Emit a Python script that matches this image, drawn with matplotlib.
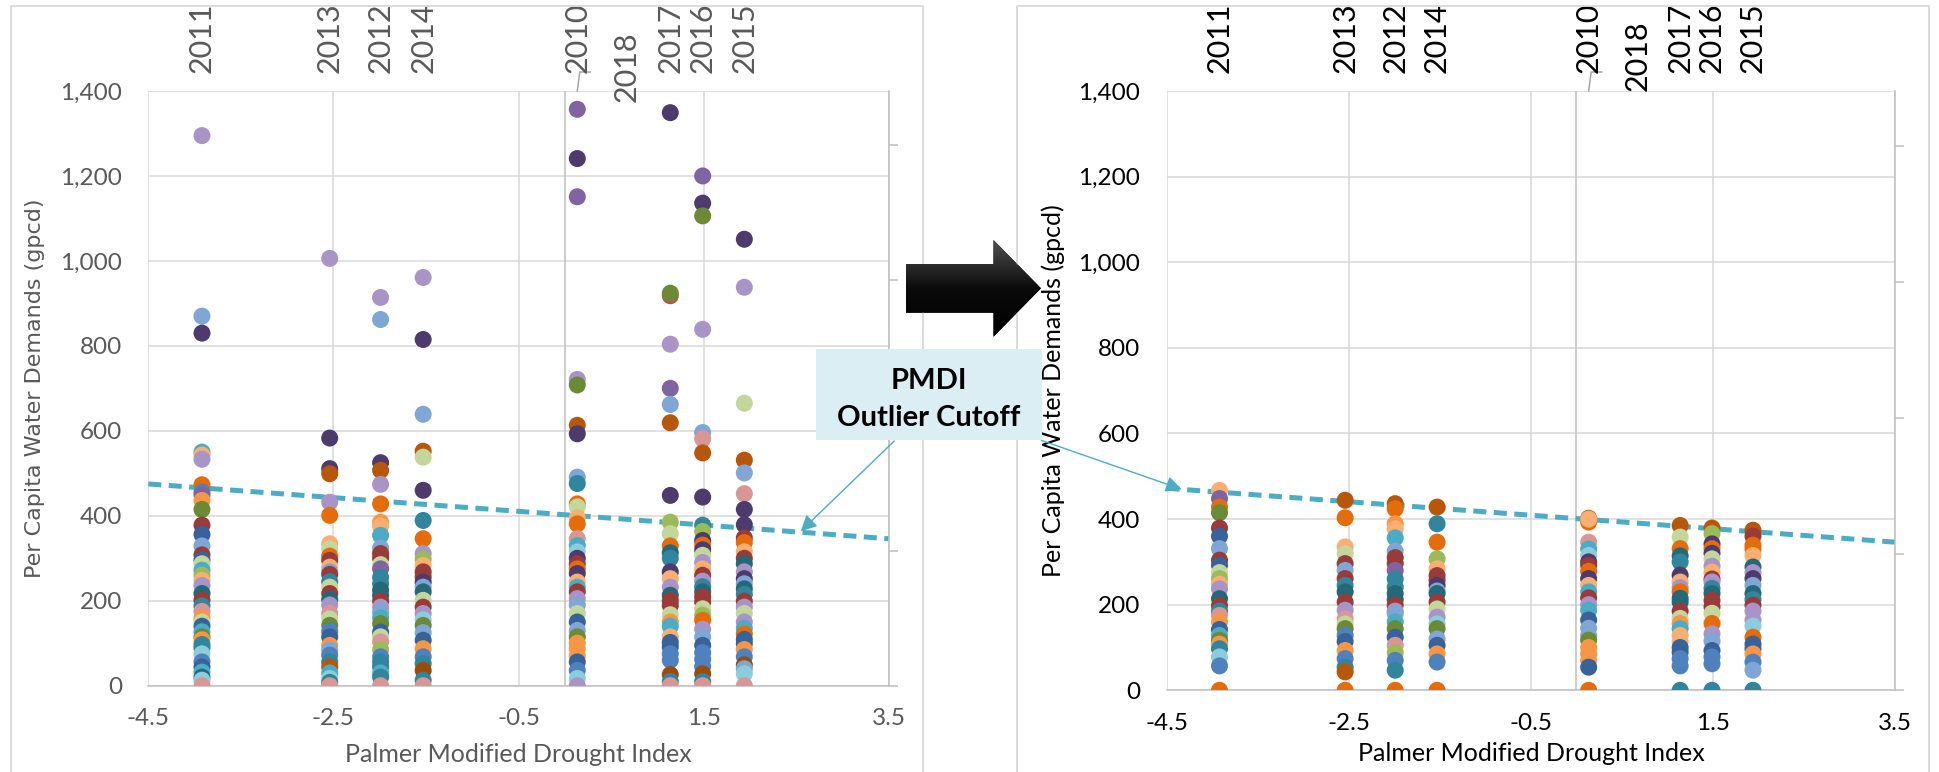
import matplotlib.pyplot as plt
import matplotlib.ticker as ticker
import matplotlib.patches as patches
from matplotlib.colors import LinearSegmentedColormap
import numpy as np

plt.rcParams['font.family'] = ['Lato', 'DejaVu Sans']

# PMDI of every year: the x position of each column of points
years = [2010, 2011, 2012, 2013, 2014, 2015, 2016, 2017, 2018]
pmdi = [0.135, -3.92, -1.99, -2.54, -1.53, 1.94, 1.49, 1.14, 0.67]

# outlier cutoff line, read at both ends of the x axis
cutoff_x = [-4.5, 3.5]
cutoff_before = [475, 346]
cutoff_after = [472, 346]

# per capita demand (gpcd) of each utility, with its series colour code
before_2010 = [(1357, 'P'), (1241, 'D'), (1151, 'P'), (721, 'p'), (708, 'O'), (613, 'W'), (593, 'D'),
               (491, 'b'), (476, 'C'), (428, 'E'), (421, 'g'), (395, 'f'), (381, 'E'), (346, 'r'),
               (330, 'T'), (315, 't'), (300, 'D'), (287, 'M'), (275, 'E'), (264, 'D'), (244, 'f'),
               (232, 'T'), (221, 'M'), (205, 'p'), (190, 'b'), (170, 'g'), (150, 'N'), (130, 'b'),
               (115, 'O'), (100, 'F'), (87, 'F'), (70, 'F'), (56, 'N'), (36, 'B'), (17, 't'), (0, 'p')]
before_2011 = [(1295, 'p'), (870, 'b'), (830, 'D'), (550, 'T'), (543, 'f'), (533, 'p'), (473, 'E'),
               (456, 'B'), (449, 'P'), (436, 'F'), (415, 'O'), (378, 'M'), (356, 'N'), (329, 'b'),
               (308, 'M'), (296, 'N'), (287, 'g'), (272, 'T'), (260, 'G'), (248, 'f'), (236, 'p'),
               (217, 'K'), (201, 'M'), (188, 'C'), (175, 'r'), (159, 'F'), (150, 'g'), (140, 'N'),
               (127, 'T'), (115, 'O'), (108, 'F'), (97, 'C'), (89, 'C'), (75, 't'), (56, 'B'),
               (44, 'N'), (32, 'T'), (20, 'K'), (13, 't'), (0, 'r')]
before_2012 = [(914, 'p'), (862, 'b'), (525, 'D'), (507, 'W'), (474, 'p'), (428, 'E'), (385, 'F'),
               (376, 'f'), (354, 'T'), (324, 'b'), (311, 'M'), (300, 'M'), (285, 'g'), (275, 'P'),
               (255, 'C'), (240, 'C'), (225, 'K'), (212, 'K'), (199, 'M'), (185, 'p'), (173, 'b'),
               (160, 'T'), (146, 'O'), (126, 'N'), (115, 'g'), (103, 'r'), (85, 'G'), (68, 'B'),
               (56, 'C'), (44, 'C'), (30, 'T'), (20, 'C'), (0, 'r')]
before_2013 = [(1006, 'p'), (583, 'D'), (511, 'D'), (499, 'W'), (432, 'p'), (401, 'E'), (334, 'f'),
               (322, 'g'), (305, 'E'), (295, 'M'), (279, 'f'), (268, 'b'), (262, 'M'), (245, 'C'),
               (232, 'g'), (217, 'M'), (203, 'K'), (190, 'p'), (170, 'r'), (157, 'g'), (142, 'O'),
               (128, 'B'), (115, 'N'), (95, 'F'), (84, 'b'), (72, 'B'), (56, 'C'), (44, 'W'),
               (30, 'T'), (17, 't'), (8, 'C'), (0, 'r')]
before_2014 = [(961, 'p'), (815, 'D'), (639, 'b'), (552, 'W'), (538, 'g'), (460, 'D'), (389, 'C'),
               (346, 'E'), (311, 'p'), (298, 'G'), (283, 'f'), (268, 'M'), (256, 'M'), (244, 'D'),
               (232, 'b'), (221, 'K'), (201, 'g'), (185, 'M'), (170, 'p'), (155, 't'), (142, 'O'),
               (125, 'b'), (107, 'N'), (87, 'F'), (68, 'B'), (52, 'C'), (36, 'n'), (13, 'C'), (0, 'r')]
before_2015 = [(1051, 'D'), (938, 'p'), (665, 'g'), (531, 'W'), (501, 'b'), (452, 'r'), (415, 'D'),
               (379, 'D'), (348, 'M'), (337, 'E'), (315, 'f'), (300, 'M'), (287, 'K'), (268, 'p'),
               (252, 'D'), (240, 'b'), (228, 'K'), (215, 'C'), (199, 'M'), (185, 'p'), (170, 'g'),
               (150, 'p'), (135, 'T'), (122, 'E'), (109, 'N'), (99, 'N'), (85, 'F'), (68, 'B'),
               (49, 'n'), (40, 'b'), (28, 't'), (0, 'r')]
before_2016 = [(1200, 'P'), (1136, 'D'), (1106, 'O'), (839, 'p'), (596, 'b'), (581, 'r'), (548, 'W'),
               (444, 'D'), (378, 'C'), (363, 'G'), (342, 'D'), (331, 'E'), (320, 'D'), (307, 'g'),
               (290, 'p'), (275, 'f'), (260, 'M'), (246, 'p'), (233, 'C'), (221, 'K'), (209, 'M'),
               (197, 'M'), (181, 'g'), (166, 'G'), (154, 'E'), (133, 'p'), (115, 'b'), (95, 'N'),
               (78, 'B'), (62, 'B'), (45, 'B'), (28, 'n'), (10, 'C'), (0, 'r')]
before_2017 = [(1349, 'D'), (918, 'R'), (924, 'O'), (804, 'p'), (700, 'P'), (662, 'b'), (619, 'W'),
               (448, 'D'), (385, 'G'), (358, 'g'), (329, 'E'), (313, 'K'), (300, 'C'), (268, 'D'),
               (252, 'f'), (232, 'p'), (213, 'K'), (200, 'M'), (189, 'M'), (167, 'g'), (150, 'F'),
               (140, 'T'), (115, 'f'), (102, 'N'), (91, 'N'), (75, 'B'), (60, 'B'), (26, 'n'),
               (10, 'C'), (0, 'r')]

after_2010 = [(402, 'W'), (393, 'E'), (400, 'f'), (346, 'r'), (330, 'T'), (315, 't'), (300, 'D'),
              (292, 'M'), (278, 'E'), (261, 'D'), (245, 'f'), (230, 'T'), (216, 'M'), (200, 'p'),
              (187, 'T'), (164, 'N'), (145, 'b'), (128, 'b'), (117, 'O'), (100, 'F'), (85, 'F'),
              (70, 'F'), (54, 'N'), (0, 'E')]
after_2011 = [(467, 'f'), (448, 'P'), (428, 'E'), (415, 'O'), (379, 'M'), (360, 'N'), (331, 'b'),
              (304, 'M'), (292, 'N'), (275, 'g'), (261, 'G'), (248, 'f'), (237, 'p'), (214, 'K'),
              (198, 'M'), (185, 'C'), (175, 'r'), (160, 'F'), (142, 'N'), (128, 'T'), (117, 'O'),
              (108, 'F'), (97, 'C'), (78, 't'), (57, 'B'), (0, 'E')]
after_2012 = [(436, 'W'), (424, 'E'), (389, 'F'), (377, 'f'), (356, 'T'), (325, 'b'), (310, 'M'),
              (296, 'M'), (280, 'P'), (260, 'C'), (241, 'C'), (226, 'K'), (212, 'K'), (199, 'M'),
              (185, 'p'), (179, 'b'), (160, 'T'), (144, 'O'), (124, 'N'), (105, 'r'), (88, 'G'),
              (70, 'B'), (47, 'C'), (0, 'E')]
after_2013 = [(444, 'W'), (403, 'E'), (335, 'f'), (319, 'g'), (296, 'M'), (280, 'b'), (261, 'M'),
              (245, 'C'), (230, 'K'), (206, 'M'), (187, 'p'), (167, 'r'), (155, 'g'), (144, 'O'),
              (128, 'B'), (114, 'N'), (93, 'F'), (74, 'B'), (54, 'C'), (43, 'W'), (0, 'E')]
after_2014 = [(428, 'W'), (389, 'C'), (346, 'E'), (307, 'G'), (284, 'f'), (268, 'M'), (257, 'M'),
              (245, 'D'), (232, 'b'), (226, 'K'), (206, 'M'), (190, 'g'), (171, 'p'), (155, 't'),
              (144, 'O'), (120, 'b'), (105, 'N'), (85, 'F'), (66, 'B'), (0, 'E')]
after_2015 = [(374, 'W'), (360, 'M'), (339, 'E'), (330, 'E'), (315, 'f'), (288, 'K'), (275, 'p'),
              (261, 'D'), (245, 'b'), (226, 'K'), (212, 'C'), (199, 'M'), (185, 'p'), (164, 'p'),
              (150, 't'), (124, 'E'), (108, 'N'), (97, 'N'), (85, 'F'), (66, 'B'), (47, 'b'), (0, 'C')]
after_2016 = [(379, 'W'), (366, 'G'), (342, 'D'), (331, 'E'), (320, 'D'), (307, 'g'), (290, 'p'),
              (276, 'f'), (260, 'M'), (253, 'p'), (238, 'C'), (226, 'K'), (210, 'M'), (195, 'M'),
              (180, 'g'), (156, 'E'), (132, 'p'), (115, 'b'), (93, 'N'), (78, 'B'), (62, 'B'), (0, 'C')]
after_2017 = [(385, 'W'), (358, 'g'), (331, 'E'), (314, 'K'), (300, 'C'), (269, 'D'), (253, 'f'),
              (240, 'p'), (230, 'E'), (215, 'K'), (206, 'K'), (185, 'M'), (168, 'g'), (156, 'F'),
              (144, 'T'), (128, 'f'), (113, 'f'), (100, 'N'), (89, 'N'), (74, 'B'), (57, 'B'), (0, 'C')]

palette = {'P': '#8064A2', 'p': '#A994C8', 'D': '#4E3B6E', 'B': '#4F81BD', 'b': '#7FA6D4',
           'N': '#38629A', 'M': '#983B39', 'R': '#C0504D', 'r': '#D99694', 'G': '#9BBB59',
           'g': '#C3D69B', 'O': '#6A8A35', 'T': '#4BACC6', 't': '#8CCDDD', 'C': '#31859C',
           'K': '#23697A', 'F': '#F79646', 'f': '#F9AE72', 'E': '#E46C0A', 'W': '#B8560A',
           'n': '#9C4A08'}

W, H = 1939, 772
GRID = '#D9D9D9'
AXIS = '#BFBFBF'
GRAY = '#595959'
CUT = '#4BACC6'


def px_box(x0, y0, x1, y1):
    return [x0 / W, 1 - y1 / H, (x1 - x0) / W, (y1 - y0) / H]


def draw(ax, columns, cutoff, color, dy2018):
    ax.set_xlim(-4.5, 3.5)
    ax.set_ylim(0, 1400)
    ax.set_xticks(np.arange(-4.5, 3.6, 2))
    ax.set_yticks(range(0, 1401, 200))
    ax.xaxis.set_major_formatter(ticker.FormatStrFormatter('%.1f'))
    ax.yaxis.set_major_formatter(ticker.StrMethodFormatter('{x:,.0f}'))
    ax.grid(True, color=GRID, lw=1.1)
    ax.set_axisbelow(True)
    for side in ['left', 'top', 'right']:
        ax.spines[side].set_visible(False)
    ax.spines['bottom'].set_color(AXIS)
    ax.spines['bottom'].set_linewidth(1.1)
    ax.tick_params(length=0, labelsize=17.5, labelcolor=color)
    ax.tick_params(axis='x', pad=16)
    ax.tick_params(axis='y', pad=19)
    ax.axvline(0, color=AXIS, lw=1.1, zorder=1.5)

    ax.plot(cutoff_x, cutoff, color=CUT, lw=3.6, ls=(0, (2.6, 1.5)), zorder=2)

    for year, pts in columns.items():
        x = pmdi[years.index(year)]
        vals = [v for v, c in pts]
        cols = [palette[c] for v, c in pts]
        ax.scatter([x] * len(vals), vals, c=cols, s=150, linewidths=0, zorder=3)

    # year labels along the top
    for year, x in zip(years, pmdi):
        dy = dy2018 if year == 2018 else 13
        ax.annotate(str(year), xy=(x, 1400), xytext=(0, dy), textcoords='offset points',
                    rotation=90, ha='center', va='bottom', color=color, fontsize=22,
                    family=['Liberation Sans Narrow', 'Lato'], annotation_clip=False)
    # leader from the 2010 column to its label
    x10 = pmdi[years.index(2010)]
    sx = 8 / (ax.get_position().width * W)
    sy = 1400 / (ax.get_position().height * H)
    ax.plot([x10, x10 + 2.5 * sx, x10 + 13 * sx], [1400, 1400 + 19 * sy, 1400 + 19 * sy],
            color='#A6A6A6', lw=1.1, clip_on=False)

    # secondary axis: only its line and outward ticks show
    tw = ax.twinx()
    tw.set_ylim(0, 1400 / 318)
    tw.set_yticks(range(5))
    tw.tick_params(axis='y', direction='out', length=6.5, width=1.1, color=AXIS, labelright=False)
    for side in ['left', 'top', 'bottom']:
        tw.spines[side].set_visible(False)
    tw.spines['right'].set_color(AXIS)
    tw.spines['right'].set_linewidth(1.1)


fig = plt.figure(figsize=(W / 100, H / 100), dpi=100)

ax1 = fig.add_axes(px_box(148.3, 91, 888.7, 685.7))
draw(ax1, {2011: before_2011, 2013: before_2013, 2012: before_2012, 2014: before_2014,
           2010: before_2010, 2017: before_2017, 2016: before_2016, 2015: before_2015},
     cutoff_before, GRAY, -8)

ax2 = fig.add_axes(px_box(1166.7, 91, 1895, 690.3))
draw(ax2, {2011: after_2011, 2013: after_2013, 2012: after_2012, 2014: after_2014,
           2010: after_2010, 2017: after_2017, 2016: after_2016, 2015: after_2015},
     cutoff_after, 'black', 0)

fig.text(35 / W, 1 - 388.5 / H, 'Per Capita Water Demands (gpcd)', rotation=90, ha='center',
         va='center', color=GRAY, fontsize=16, family='DejaVu Sans')
fig.text(1053 / W, 1 - 390.5 / H, 'Per Capita Water Demands (gpcd)', rotation=90, ha='center',
         va='center', color='black', fontsize=18)
fig.text(518.3 / W, 1 - 762 / H, 'Palmer Modified Drought Index', ha='center', va='baseline',
         color=GRAY, fontsize=18)
fig.text(1531.7 / W, 1 - 761 / H, 'Palmer Modified Drought Index', ha='center', va='baseline',
         color='black', fontsize=18)

# overlay in pixel units for the frames, block arrow and callout
ov = fig.add_axes([0, 0, 1, 1], zorder=10)
ov.patch.set_alpha(0)
ov.axis('off')

for x0, x1 in [(11, 922.7), (1017.3, 1929)]:
    ov.plot([x0, x0, x1, x1], [780, 6, 6, 780], color=GRID, lw=1.3)

arrow = patches.Polygon([(906, 264), (993.5, 264), (993.5, 240), (1041, 288.3),
                         (993.5, 336.7), (993.5, 312.7), (906, 312.7)],
                        closed=True, fc='black', ec='none')
ov.add_patch(arrow)
grad = np.linspace(0, 1, 100).reshape(-1, 1)
shade = LinearSegmentedColormap.from_list('shade', ['#505050', '#0a0a0a', '#000000'])
img = ov.imshow(grad, extent=(906, 1041, 336.7, 240), cmap=shade, aspect='auto', zorder=3)
img.set_clip_path(arrow)

ov.add_patch(patches.Rectangle((816, 349), 225.7, 91.3, fc='#DAEEF3', ec='none', zorder=4))
ov.text(929, 381, 'PMDI', ha='center', va='center', fontsize=21, fontweight='bold', zorder=5)
ov.text(929, 418, 'Outlier Cutoff', ha='center', va='center', fontsize=21, fontweight='bold', zorder=5)

arrow_style = dict(arrowstyle='-|>', color=CUT, lw=1.0, mutation_scale=24, shrinkA=0, shrinkB=0)
ov.annotate('', xy=(800.7, 531.3), xytext=(894.3, 441), arrowprops=arrow_style, zorder=5)
ov.annotate('', xy=(1181.7, 489.3), xytext=(1041.7, 440.5), arrowprops=arrow_style, zorder=5)

ov.set_xlim(0, W)
ov.set_ylim(H, 0)

fig.savefig('out.png', dpi=100, facecolor='white')
